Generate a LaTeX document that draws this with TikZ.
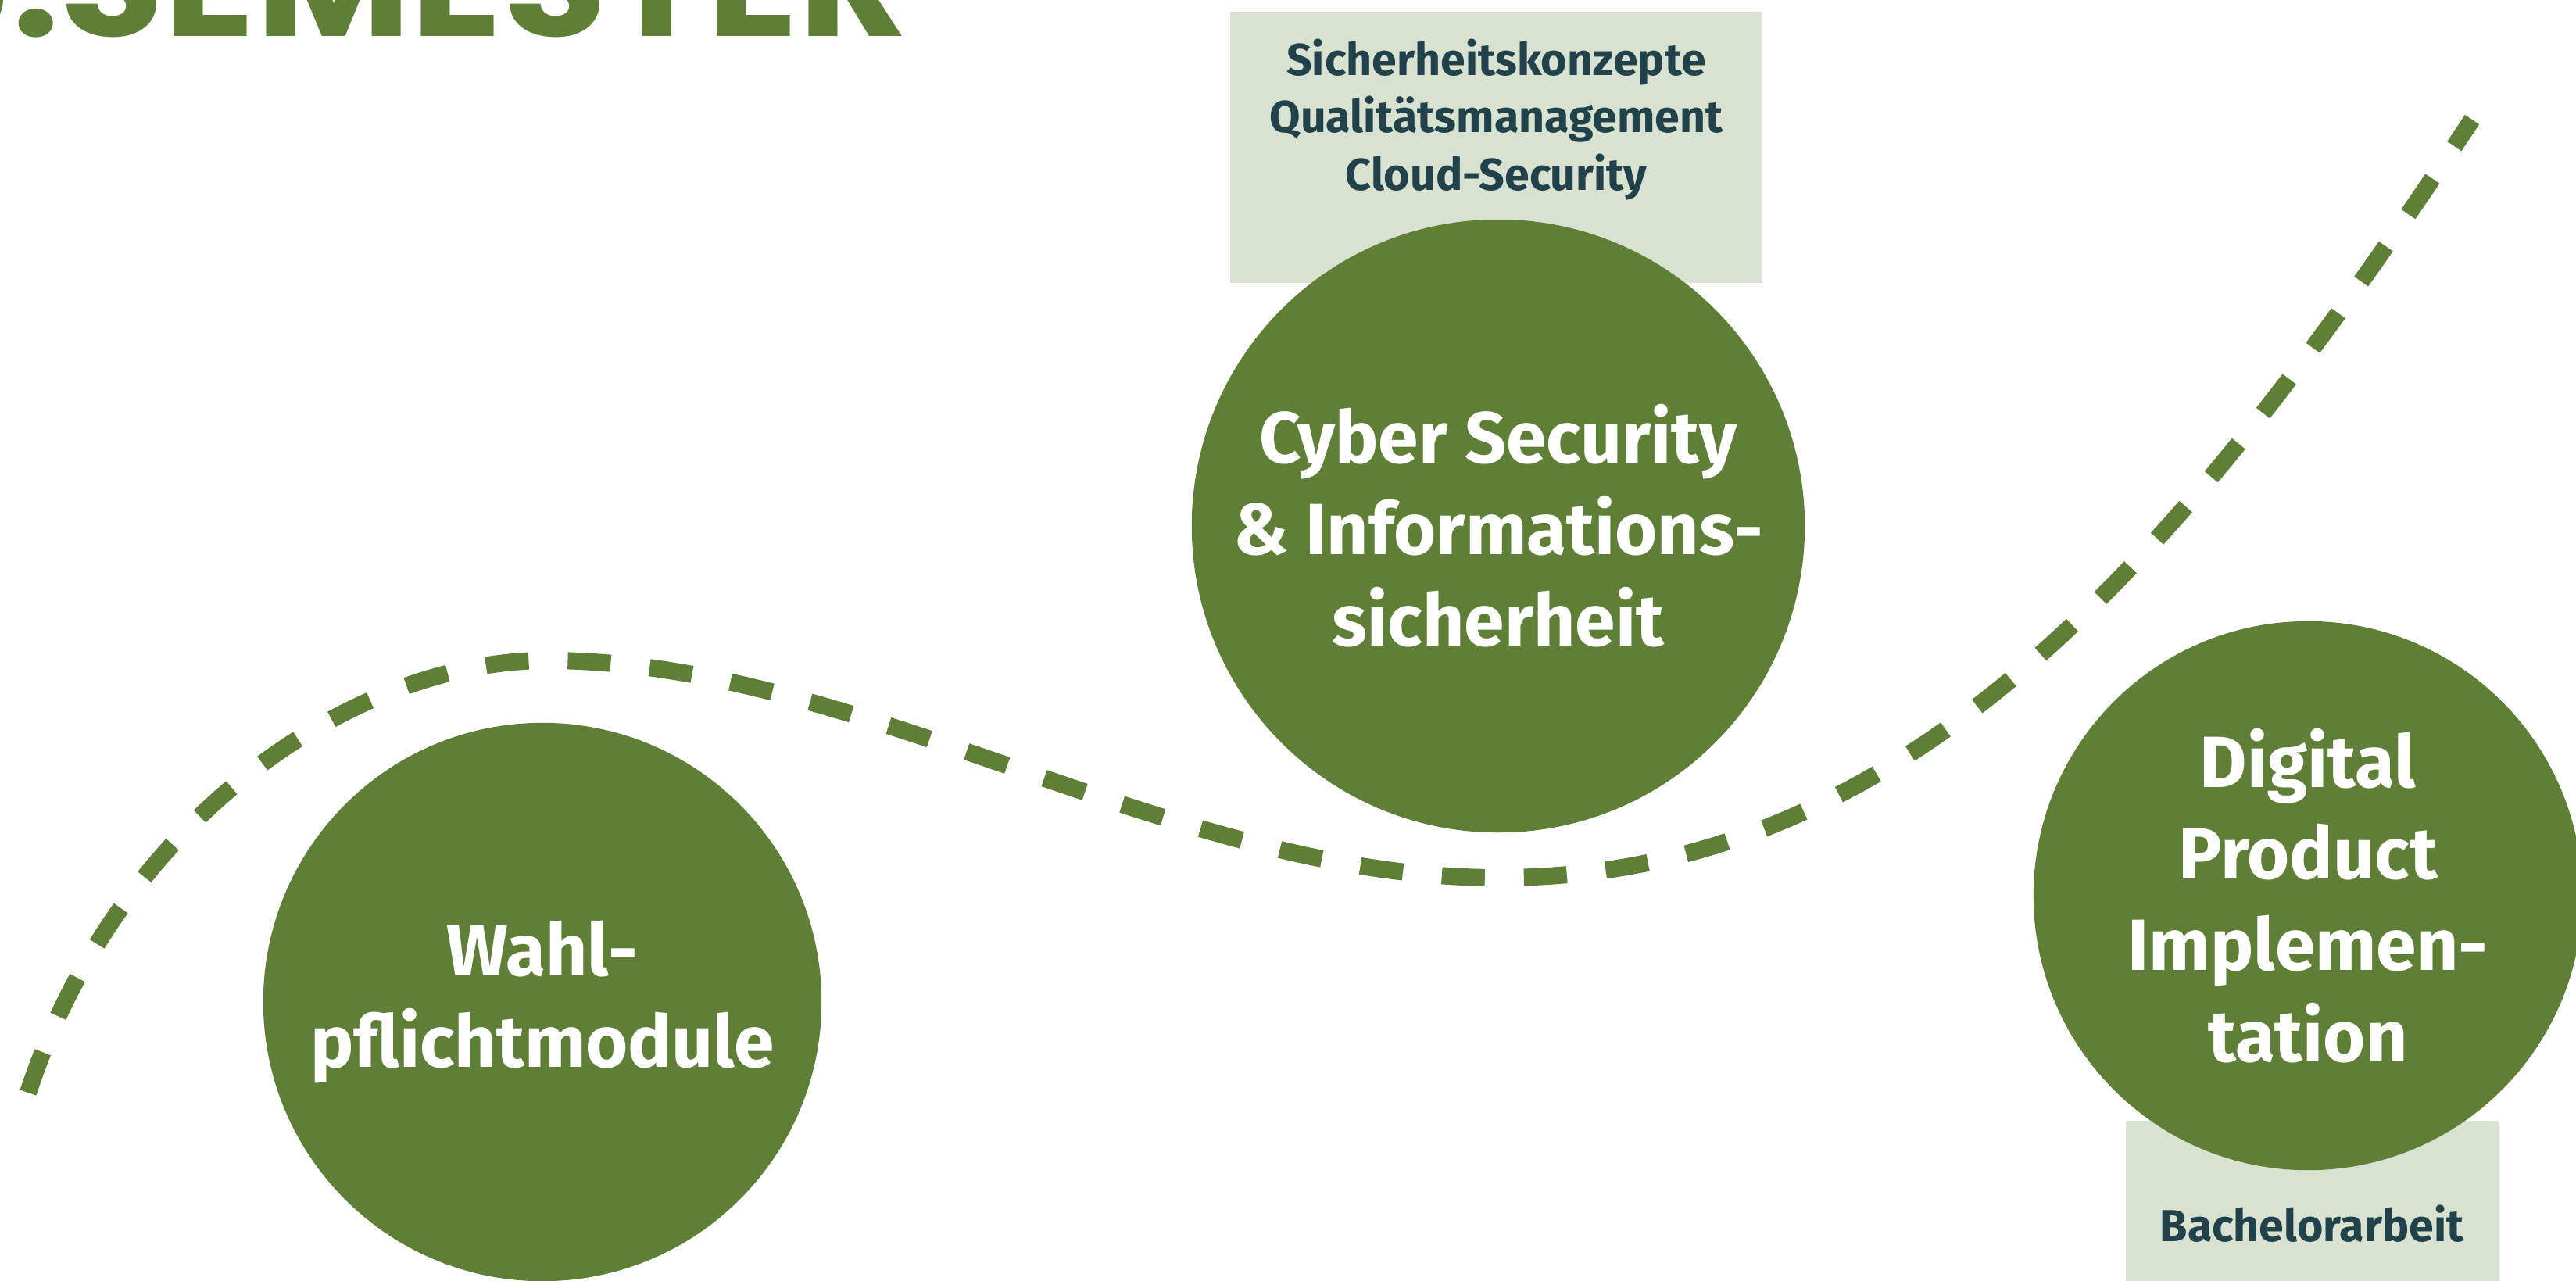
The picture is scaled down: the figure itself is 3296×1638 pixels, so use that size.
\documentclass[tikz,border=0pt]{standalone}
\usepackage{fontspec}
\setmainfont{Fira Sans}
\newfontfamily\titlefont[FakeStretch=1.1]{Poppins}
\usetikzlibrary{positioning}
\definecolor{moss}{HTML}{5F7F37}
\definecolor{mossfill}{HTML}{D9E2D1}
\definecolor{petrol}{HTML}{21424A}

\begin{document}
\begin{tikzpicture}[x=0.01cm, y=-0.01cm,
  module/.style={circle, fill=moss, text=white, align=center, inner sep=0pt, font=\bfseries\fontsize{26.4}{33.3}\selectfont},
  topics/.style={rectangle, fill=mossfill, text=petrol, align=center, inner sep=0pt, font=\bfseries\fontsize{16.3}{21}\selectfont},
  route/.style={draw=moss, line width=0.22cm, dash pattern=on 0.55cm off 0.5cm},
]
\useasboundingbox (0,0) rectangle (3296,1638);
\clip (0,0) rectangle (3296,1638);

% Title, cut at the top edge
\node[anchor=base west, inner sep=0pt, text=moss, font=\titlefont\bfseries\fontsize{56}{60}\selectfont] (title) at (76,46) {\llap{5.\hspace{0pt}}SEMESTER};

% Dashed path through the semester
\coordinate (start) at (36,1398);
\coordinate (peak) at (700,845);
\coordinate (trough) at (1917,1123);
\coordinate (end) at (3163,153);
\draw[route] (start) .. controls (150,1050) and (450,845) .. (peak)
  .. controls (1100,845) and (1500,1123) .. (trough)
  .. controls (2450,1123) and (2800,700) .. (end);

% Topic boxes behind the circles
\node[topics, minimum width=6.81cm, minimum height=3.47cm] (cyberbox) at (1914.5,188.5) {};
\node[topics, minimum width=4.77cm, minimum height=2.10cm] (digitalbox) at (2958.5,1539) {};

% Module circles
\node[module, minimum size=7.14cm] (wahl) at (694,1282) {Wahl-\\pflichtmodule};
\node[module, minimum size=7.84cm] (cyber) at (1917,673) {Cyber Security\\\& Informations-\\sicherheit};
\node[module, minimum size=7.02cm] (digital) at (2953,1146) {Digital\\Product\\Implemen-\\tation};

% Topic texts
\node[topics, fill=none] (cybertext) at (1914.5,153) {Sicherheitskonzepte\\Qualitätsmanagement\\Cloud-Security};
\node[topics, fill=none] (digitaltext) at (2958,1566) {Bachelorarbeit};

\end{tikzpicture}
\end{document}
